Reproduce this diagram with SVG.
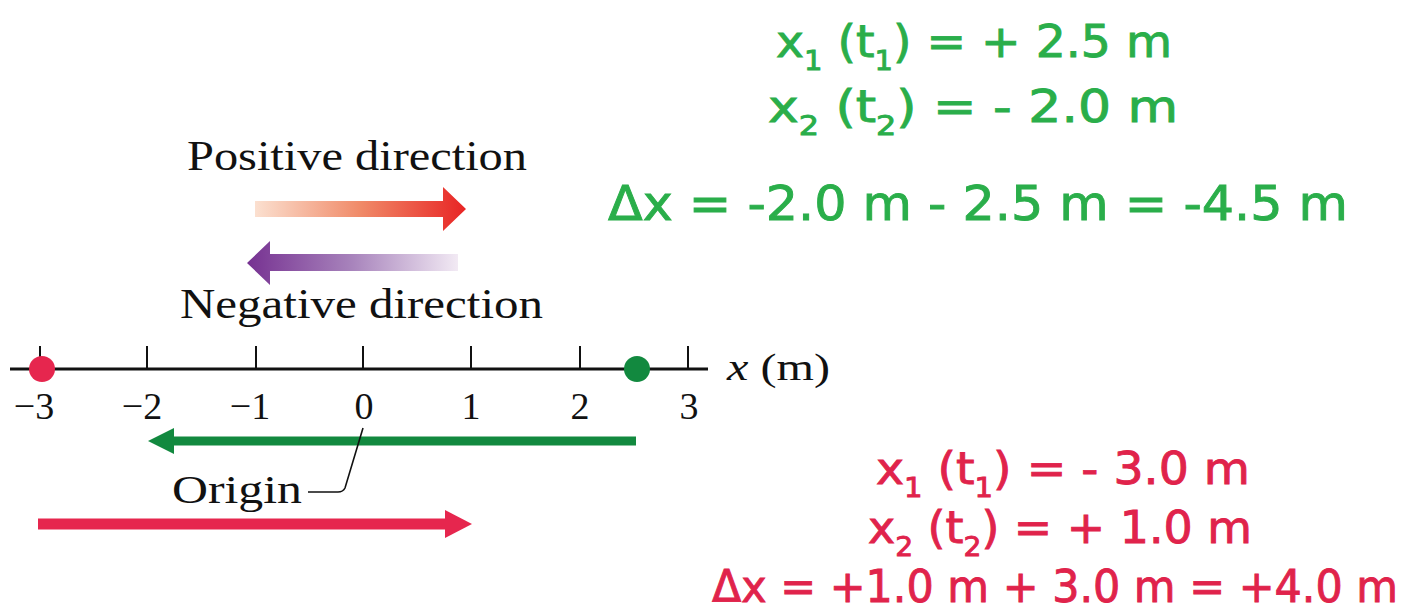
<svg xmlns="http://www.w3.org/2000/svg" width="1416" height="614" viewBox="0 0 1416 614">
<style>
.serif{font-family:"Liberation Serif","Times New Roman",serif;fill:#111;}
.hand{font-family:"DejaVu Sans","Open Sans",sans-serif;stroke-width:0.9;}
.g{fill:#2AAE4A;stroke:#2AAE4A;}
.r{fill:#E0234B;stroke:#E0234B;}
.tick{stroke:#111;stroke-width:2;}
</style>
<defs>
<linearGradient id="gradPos" x1="0" y1="0" x2="1" y2="0">
<stop offset="0" stop-color="#FBE0D0"/>
<stop offset="0.5" stop-color="#F08A68"/>
<stop offset="1" stop-color="#E82424"/>
</linearGradient>
<linearGradient id="gradNeg" x1="0" y1="0" x2="1" y2="0">
<stop offset="0" stop-color="#763191"/>
<stop offset="0.5" stop-color="#A884BC"/>
<stop offset="1" stop-color="#F2EAF4"/>
</linearGradient>
</defs>

<g id="direction-legend">
<text class="serif" x="187" y="170" font-size="42" textLength="340" lengthAdjust="spacingAndGlyphs">Positive direction</text>
<path d="M255,201 H443 V187 L466,209 L443,231 V217 H255 Z" fill="url(#gradPos)"/>
<path d="M458,254 H270 V241 L247,263 L270,285 V271 H458 Z" fill="url(#gradNeg)"/>
<text class="serif" x="180" y="318" font-size="42" textLength="363" lengthAdjust="spacingAndGlyphs">Negative direction</text>
</g>

<g id="axis">
<line x1="10" y1="369" x2="708" y2="369" stroke="#111" stroke-width="3"/>
<line class="tick" x1="40" y1="346" x2="40" y2="369"/>
<line class="tick" x1="147" y1="346" x2="147" y2="369"/>
<line class="tick" x1="256" y1="346" x2="256" y2="369"/>
<line class="tick" x1="363" y1="346" x2="363" y2="369"/>
<line class="tick" x1="471" y1="346" x2="471" y2="369"/>
<line class="tick" x1="580" y1="346" x2="580" y2="369"/>
<line class="tick" x1="688" y1="346" x2="688" y2="369"/>
<g class="serif" font-size="38" text-anchor="middle">
<text x="34" y="419">−3</text>
<text x="142" y="419">−2</text>
<text x="250" y="419">−1</text>
<text x="364" y="419">0</text>
<text x="471" y="419">1</text>
<text x="580" y="419">2</text>
<text x="689" y="419">3</text>
</g>
<text class="serif" x="727" y="380" font-size="38" textLength="103" lengthAdjust="spacingAndGlyphs"><tspan font-style="italic">x</tspan> (m)</text>
</g>

<g id="point-start-red">
<circle cx="42" cy="369" r="13" fill="#E6264E"/>
</g>
<g id="point-start-green">
<circle cx="637" cy="369" r="13" fill="#12893F"/>
</g>

<g id="origin-label">
<text class="serif" x="172" y="503" font-size="40" textLength="130" lengthAdjust="spacingAndGlyphs">Origin</text>
</g>

<g id="connectors">
<path d="M636,441 H172" stroke="#12893F" stroke-width="9" fill="none"/>
<path d="M174,428 L148,441 L174,454 Z" fill="#12893F"/>
<path d="M38,524 H445" stroke="#E6264E" stroke-width="11" fill="none"/>
<path d="M445,510 L472,524 L445,538 Z" fill="#E6264E"/>
<path d="M363,428 L345,488 Q343,492 338,492 H308" fill="none" stroke="#111" stroke-width="1.6"/>
</g>

<g id="green-equations" class="hand g">
<text x="776" y="57" font-size="44" textLength="396" lengthAdjust="spacingAndGlyphs">x<tspan font-size="27" dy="13">1</tspan><tspan dy="-13"> (t</tspan><tspan font-size="27" dy="13">1</tspan><tspan dy="-13">) = + 2.5 m</tspan></text>
<text x="768" y="122" font-size="44" textLength="410" lengthAdjust="spacingAndGlyphs">x<tspan font-size="27" dy="13">2</tspan><tspan dy="-13"> (t</tspan><tspan font-size="27" dy="13">2</tspan><tspan dy="-13">) = - 2.0 m</tspan></text>
<text x="608" y="220" font-size="48" textLength="740" lengthAdjust="spacingAndGlyphs">Δx = -2.0 m - 2.5 m = -4.5 m</text>
</g>

<g id="red-equations" class="hand r">
<text x="876" y="484" font-size="44" textLength="374" lengthAdjust="spacingAndGlyphs">x<tspan font-size="27" dy="13">1</tspan><tspan dy="-13"> (t</tspan><tspan font-size="27" dy="13">1</tspan><tspan dy="-13">) = - 3.0 m</tspan></text>
<text x="868" y="543" font-size="44" textLength="384" lengthAdjust="spacingAndGlyphs">x<tspan font-size="27" dy="13">2</tspan><tspan dy="-13"> (t</tspan><tspan font-size="27" dy="13">2</tspan><tspan dy="-13">) = + 1.0 m</tspan></text>
<text x="712" y="602" font-size="44" textLength="686" lengthAdjust="spacingAndGlyphs">Δx = +1.0 m + 3.0 m = +4.0 m</text>
</g>
</svg>
